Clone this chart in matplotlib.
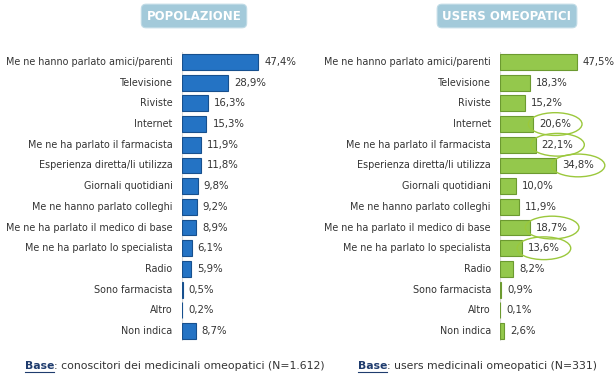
import matplotlib.pyplot as plt
from matplotlib.lines import Line2D

categories = ["Me ne hanno parlato amici/parenti", "Televisione", "Riviste", "Internet",
              "Me ne ha parlato il farmacista", "Esperienza diretta/li utilizza",
              "Giornali quotidiani", "Me ne hanno parlato colleghi",
              "Me ne ha parlato il medico di base", "Me ne ha parlato lo specialista",
              "Radio", "Sono farmacista", "Altro", "Non indica"]
popolazione = [47.4, 28.9, 16.3, 15.3, 11.9, 11.8, 9.8, 9.2, 8.9, 6.1, 5.9, 0.5, 0.2, 8.7]
users = [47.5, 18.3, 15.2, 20.6, 22.1, 34.8, 10.0, 11.9, 18.7, 13.6, 8.2, 0.9, 0.1, 2.6]
users_circled = ["Internet", "Me ne ha parlato il farmacista", "Esperienza diretta/li utilizza",
                 "Me ne ha parlato il medico di base", "Me ne ha parlato lo specialista"]

W, H = 615, 378
fig = plt.figure(figsize=(W / 100, H / 100), dpi=100)
fig.patch.set_facecolor("white")

px = 1.615  # pixels per percent
y_top, y_bot = 51.6, 341.4


def panel(x0, values, color, edge, circled, title, title_x):
    ax = fig.add_axes([x0 / W, 1 - y_bot / H, 60 * px / W, (y_bot - y_top) / H])
    ypos = range(len(categories))
    ax.barh(ypos, values, height=0.76, color=color, edgecolor=edge, linewidth=0.8)
    ax.set_xlim(0, 60)
    ax.set_ylim(len(categories) - 0.5, -0.5)
    ax.axis("off")
    ax.axvline(0, color="#d9d9d9", lw=0.8, zorder=0)
    for i, (cat, v) in enumerate(zip(categories, values)):
        ax.text(-9 / px, i, cat, ha="right", va="center", fontsize=6.9, color="#333333")
        lab = ("%.1f%%" % v).replace(".", ",")
        if cat in circled:
            ax.text(v + 6 / px, i, lab, ha="left", va="center", fontsize=7.3, color="#333333",
                    bbox=dict(boxstyle="ellipse,pad=0.3", fc="none", ec="#9bc83c", lw=1.0),
                    clip_on=False)
        else:
            ax.text(v + 6 / px, i, lab, ha="left", va="center", fontsize=7.3, color="#333333",
                    clip_on=False)
    fig.text(title_x / W, 1 - 16 / H, title, ha="center", va="center", fontsize=8.5,
             fontweight="bold", color="white",
             bbox=dict(boxstyle="round,pad=0.45,rounding_size=0.4", fc="#a3cada", ec="#c0dbe6", lw=0.8))
    return ax


panel(181.7, popolazione, "#2473c4", "#17508e", [], "POPOLAZIONE", 194)
panel(500, users, "#94c84c", "#6c9a30", users_circled, "USERS OMEOPATICI", 507)

# footnotes
fig.canvas.draw()
renderer = fig.canvas.get_renderer()
for x, rest in [(25, ": conoscitori dei medicinali omeopatici (N=1.612)"),
                (358, ": users medicinali omeopatici (N=331)")]:
    t = fig.text(x / W, 1 - 366 / H, "Base", ha="left", va="center", fontsize=7.8,
                 fontweight="bold", color="#1f3c6e")
    bb = t.get_window_extent(renderer)
    fig.text(bb.x1 / W, 1 - 366 / H, rest, ha="left", va="center", fontsize=7.8, color="#333333")
    fig.add_artist(Line2D([bb.x0 / W, bb.x1 / W], [(bb.y0 - 1) / H, (bb.y0 - 1) / H],
                          color="#1f3c6e", lw=0.8))

fig.savefig("out.png", dpi=100)
